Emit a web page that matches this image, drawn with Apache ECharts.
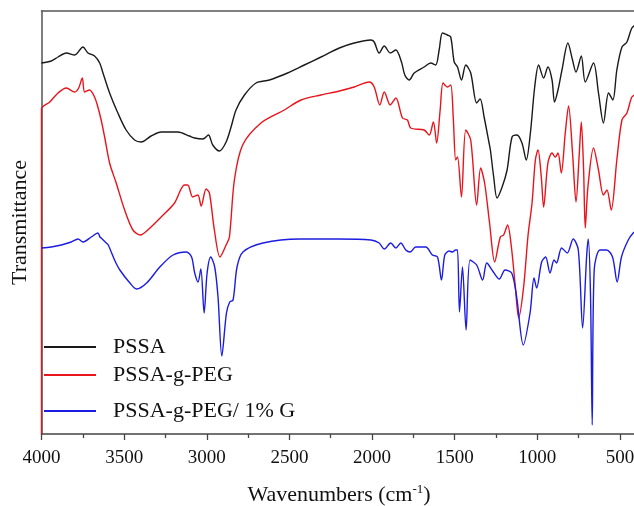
<!DOCTYPE html>
<html>
<head>
<meta charset="utf-8">
<script src="https://cdn.jsdelivr.net/npm/echarts@6/dist/echarts.min.js"></script>
<style>
html,body{margin:0;padding:0;background:#fff;}
#c{width:634px;height:506px;}
</style>
</head>
<body>
<div id="c"></div>
<script>
// Wavenumbers (cm-1) and transmittance (arbitrary units, offset spectra)
var pssaWn = [4000,3941,3900,3850,3799,3749,3719,3679,3648,3628,3588,3538,3488,3437,3397,3337,3276,3175,3105,3074,3024,2990,2964,2923,2883,2853,2823,2772,2702,2621,2511,2410,2309,2198,2108,2007,1987,1957,1926,1890,1856,1822,1802,1775,1745,1685,1645,1615,1594,1574,1544,1524,1503,1483,1459,1433,1403,1367,1346,1322,1292,1284,1264,1244,1213,1183,1153,1123,1093,1067,1042,1016,992,962,936,911,896,875,851,815,787,766,734,710,660,630,600,569,543,519,488,458,428,400];
var pssaT  = [371,373,377,381,379,387,381,378,371,361,341,321,304,294,292,298,302,302,298,296,295,299,289,283,292,307,324,339,351,354,361,369,377,386,391,394,392,381,388,381,384,372,359,354,361,367,371,369,384,401,399,397,372,367,354,369,361,331,335,317,291,284,257,236,247,264,297,299,291,274,301,347,369,356,367,354,332,344,364,391,374,362,378,352,371,341,311,341,334,364,387,392,406,410];

var pegWn = [4000,4000,3950,3900,3850,3799,3775,3753,3739,3709,3679,3659,3639,3618,3588,3548,3497,3447,3401,3357,3276,3195,3135,3115,3085,3054,3034,3004,2984,2954,2920,2883,2863,2833,2783,2672,2531,2430,2309,2198,2108,2017,1987,1953,1926,1890,1856,1816,1786,1766,1685,1654,1629,1609,1588,1570,1544,1524,1508,1494,1483,1459,1433,1403,1367,1343,1319,1289,1258,1224,1204,1180,1157,1133,1113,1083,1056,1032,1012,996,976,962,936,911,891,875,855,831,811,787,766,746,734,720,710,694,660,630,600,579,553,519,488,458,428,400];
var pegT  = [0,325,332,341,346,342,346,356,342,344,337,327,314,297,271,251,224,204,199,204,217,231,249,249,237,239,228,245,241,204,177,189,197,254,289,311,324,334,339,343,347,352,347,329,342,329,336,316,314,306,304,299,312,291,324,351,347,349,314,274,277,237,304,294,229,266,251,211,172,197,199,209,187,147,116,147,199,231,274,284,257,227,271,281,277,281,261,301,328,281,232,281,312,264,206,247,286,264,239,244,224,274,314,321,337,340];

var gWn = [4000,3941,3880,3820,3779,3749,3699,3659,3646,3639,3608,3596,3558,3526,3465,3425,3364,3284,3204,3123,3092,3073,3053,3036,3016,2998,2976,2952,2932,2909,2881,2861,2841,2817,2781,2660,2438,2208,2007,1957,1926,1887,1856,1826,1796,1769,1736,1675,1635,1604,1580,1560,1534,1514,1494,1483,1471,1453,1431,1407,1367,1331,1306,1266,1230,1195,1155,1125,1085,1044,1020,1004,974,950,923,899,884,853,819,783,752,726,702,692,678,668,656,621,581,545,517,491,450,420,400];
var gT  = [186,187,189,192,195,192,197,201,197,196,191,189,174,164,151,145,151,167,179,182,177,161,152,165,121,161,177,167,137,78,121,132,134,167,182,191,195,195,194,191,185,191,186,191,184,182,187,187,179,177,154,179,183,182,184,184,122,167,104,174,169,154,171,162,155,164,161,137,89,121,156,146,172,177,161,174,171,186,181,195,184,106,177,195,137,9,164,184,184,177,152,177,194,201,203];

var seriesNames = ['PSSA', 'PSSA-g-PEG', 'PSSA-g-PEG/ 1% G'];
var majorTicks = [500,1000,1500,2000,2500,3000,3500,4000];
var minorTicks = [750,1250,1750,2250,2750,3250,3750];

function pairs(xs, ys){ return xs.map(function(x,i){ return [x, ys[i]]; }); }

var FONT = '"Liberation Serif","Times New Roman",serif';
var chart = echarts.init(document.getElementById('c'), null, {renderer:'canvas'});
var grid = {left:41.5, top:11, width:595, height:423, outerBoundsMode:'none', containLabel:false};
var legendBase = {
  orient:'vertical', left:39, itemWidth:52, itemHeight:2, icon:'rect',
  textStyle:{fontFamily:FONT, fontSize:22, color:'#111', padding:[0,0,0,12]},
  selectedMode:false
};
chart.setOption({
  animation:false,
  backgroundColor:'#fff',
  grid: grid,
  legend: [
    Object.assign({}, legendBase, {top:331, data:[seriesNames[0]]}),
    Object.assign({}, legendBase, {top:359, data:[seriesNames[1]]}),
    Object.assign({}, legendBase, {top:395, data:[seriesNames[2]]})
  ],
  xAxis: [
    {
      type:'value', inverse:true, min:400, max:4000, position:'bottom',
      name:'Wavenumbers (cm{sup|-1})', nameLocation:'middle', nameGap:49,
      nameTextStyle:{fontFamily:FONT, fontSize:22, color:'#111',
        rich:{sup:{fontFamily:FONT, fontSize:13, verticalAlign:'top', padding:[0,0,12,0], color:'#111'}}},
      axisLine:{show:true, onZero:false, lineStyle:{color:'#444', width:1.5}},
      axisTick:{show:true, inside:false, length:6, customValues:majorTicks, lineStyle:{color:'#444', width:1.3}},
      axisLabel:{show:true, customValues:majorTicks, margin:15, fontFamily:FONT, fontSize:19, color:'#111',
        formatter:function(v){ return String(v); }},
      splitLine:{show:false}
    },
    {
      type:'value', inverse:true, min:400, max:4000, position:'bottom',
      axisLine:{show:false},
      axisTick:{show:true, inside:false, length:4, customValues:minorTicks, lineStyle:{color:'#444', width:1.3}},
      axisLabel:{show:false},
      splitLine:{show:false}
    },
    {
      type:'value', inverse:true, min:400, max:4000, position:'top',
      axisLine:{show:true, onZero:false, lineStyle:{color:'#555', width:1.5}},
      axisTick:{show:false}, axisLabel:{show:false}, splitLine:{show:false}
    }
  ],
  yAxis: {
    type:'value', min:0, max:423,
    name:'Transmittance', nameLocation:'middle', nameGap:10,
    nameTextStyle:{fontFamily:FONT, fontSize:22, color:'#111'},
    axisLine:{show:true, onZero:false, lineStyle:{color:'#555', width:1.5}},
    axisTick:{show:false}, axisLabel:{show:false}, splitLine:{show:false}
  },
  series: [
    {name:seriesNames[0], type:'line', data:pairs(pssaWn,pssaT), showSymbol:false, smooth:0.3,
     lineStyle:{color:'#1a1a1a', width:1.4}, itemStyle:{color:'#1a1a1a'}},
    {name:seriesNames[1], type:'line', data:pairs(pegWn,pegT), showSymbol:false, smooth:0.3,
     lineStyle:{color:'#e8141c', width:1.4}, itemStyle:{color:'#e8141c'}},
    {name:seriesNames[2], type:'line', data:pairs(gWn,gT), showSymbol:false, smooth:0.3,
     lineStyle:{color:'#1c1ce0', width:1.4}, itemStyle:{color:'#1c1ce0'}}
  ]
});
</script>
</body>
</html>
